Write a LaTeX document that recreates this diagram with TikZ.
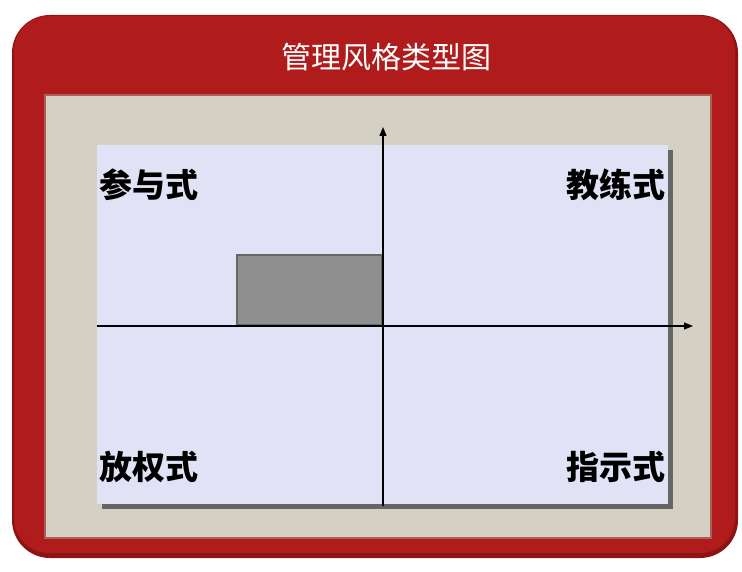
\documentclass[tikz,border=0pt]{standalone}
\usepackage{fontspec}
\newfontfamily\cjk{Noto Sans CJK SC}
\usetikzlibrary{arrows.meta}
\definecolor{framered}{HTML}{B01C1C}
\definecolor{framedark}{HTML}{8E1414}
\definecolor{beige}{HTML}{D4D0C4}
\definecolor{lavender}{HTML}{E2E2F6}
\definecolor{boxgray}{HTML}{8F8F8F}
\tikzset{
  x=1pt, y=-1pt,
  axis/.style={line width=1.3pt, -{Triangle[length=9pt,width=7pt]}},
  quad/.style={font=\cjk\bfseries\fontsize{33}{36}\selectfont, text=black, inner sep=0pt},
}
\begin{document}
\begin{tikzpicture}
\useasboundingbox (0,0) rectangle (742,572);
\fill[white] (0,0) rectangle (742,572);
% outer red frame
\fill[framedark, rounded corners=38pt] (12,15) rectangle (738,558);
\fill[framered, rounded corners=35pt] (14,16) rectangle (735,553);
\node[font=\cjk\fontsize{30}{34}\selectfont, text=white] (title) at (386,57) {管理风格类型图};
% beige panel
\fill[framedark!60!beige] (44,94) rectangle (712,539);
\fill[beige] (46,96) rectangle (710,537);
% shadow + lavender panel
\fill[black!60] (102,150) rectangle (673,509);
\fill[lavender] (97,145) rectangle (668,504);
% gray box
\draw[fill=boxgray, draw=black!60, line width=1.2pt] (237,255) rectangle (382,325);
% axes
\coordinate (xs) at (97,326);
\coordinate (xe) at (693,326);
\coordinate (ys) at (383,506);
\coordinate (ye) at (383,127);
\draw[axis] (xs) -- (xe);
\draw[axis] (ys) -- (ye);
% labels
\node[quad, anchor=west] (q1) at (99,185) {参与式};
\node[quad, anchor=east] (q2) at (666,185) {教练式};
\node[quad, anchor=west] (q3) at (99,467) {放权式};
\node[quad, anchor=east] (q4) at (666,467) {指示式};
\end{tikzpicture}
\end{document}
